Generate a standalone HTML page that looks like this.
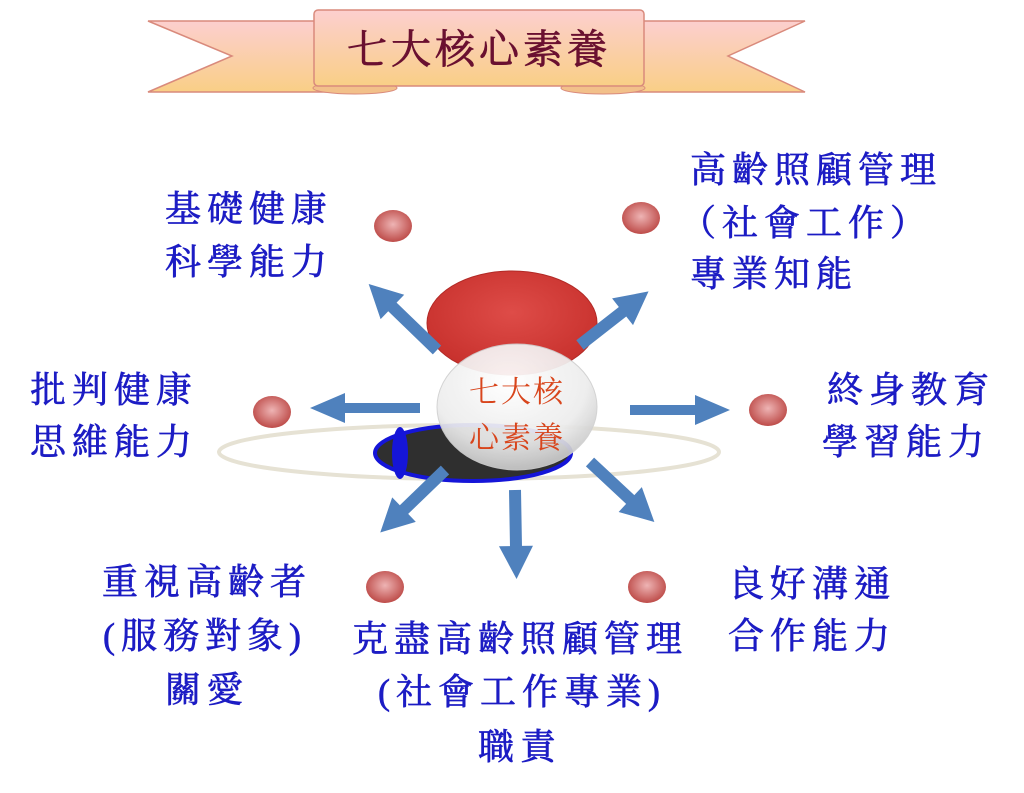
<!DOCTYPE html>
<html><head><meta charset="utf-8"><style>
html,body{margin:0;padding:0;background:#fff;}
svg{display:block;}
.t{font-family:"Liberation Serif","Noto Serif CJK TC","Noto Serif CJK SC",serif;font-size:36px;fill:#1c1cc4;stroke:#1c1cc4;stroke-width:0.7px;letter-spacing:6px;}
</style></head><body>
<svg width="1024" height="793" viewBox="0 0 1024 793" xmlns="http://www.w3.org/2000/svg">
<defs>
<linearGradient id="bn" x1="0" y1="0" x2="0" y2="1">
<stop offset="0" stop-color="#fccfcf"/><stop offset="1" stop-color="#f9cf86"/></linearGradient>
<radialGradient id="dot" cx="0.5" cy="0.45" r="0.6">
<stop offset="0" stop-color="#eeb4b4"/><stop offset="1" stop-color="#b9423f"/></radialGradient>
<radialGradient id="red" cx="0.5" cy="0.4" r="0.6">
<stop offset="0" stop-color="#de4c48"/><stop offset="1" stop-color="#c7302c"/></radialGradient>
<radialGradient id="wh" cx="0.45" cy="0.3" r="0.7">
<stop offset="0" stop-color="#ffffff"/><stop offset="0.7" stop-color="#ececec"/><stop offset="1" stop-color="#c8c8c8"/></radialGradient>
</defs>
<polygon points="148,21 330,21 330,92 148,92 232,56" fill="url(#bn)" stroke="#d98a7c" stroke-width="1.5"/>
<polygon points="805,21 630,21 630,92 805,92 728,56" fill="url(#bn)" stroke="#d98a7c" stroke-width="1.5"/>
<ellipse cx="355" cy="88" rx="42" ry="6" fill="#f2c08a" stroke="#d98a7c"/>
<ellipse cx="603" cy="88" rx="42" ry="6" fill="#f2c08a" stroke="#d98a7c"/>
<rect x="314" y="10" width="330" height="76" rx="4" fill="url(#bn)" stroke="#d98a7c" stroke-width="1.5"/>
<text x="479" y="63" text-anchor="middle" style="font-family:'Liberation Serif','Noto Serif CJK TC',serif;font-size:40px;fill:#6a1030;stroke:#6a1030;stroke-width:0.8px;letter-spacing:4px">七大核心素養</text>
<ellipse cx="469" cy="452" rx="250" ry="27" fill="none" stroke="#e6e2d4" stroke-width="4"/>
<ellipse cx="512" cy="323" rx="85" ry="52" fill="url(#red)" stroke="#b22a26"/>
<ellipse cx="473" cy="453" rx="98" ry="28" fill="#2f2f2f" stroke="#1515d8" stroke-width="4"/>
<ellipse cx="400" cy="453" rx="8" ry="26" fill="#1515d8"/>
<ellipse cx="517" cy="407" rx="80" ry="63" fill="url(#wh)" opacity="0.93" stroke="#d0d0d0"/>
<text x="517" y="402" text-anchor="middle" style="font-family:'Liberation Serif','Noto Serif CJK TC',serif;font-size:30px;fill:#d8451c;letter-spacing:2px">七大核</text>
<text x="517" y="448" text-anchor="middle" style="font-family:'Liberation Serif','Noto Serif CJK TC',serif;font-size:30px;fill:#d8451c;letter-spacing:2px">心素養</text>
<g fill="#4f81bd">
<g transform="translate(420,408) rotate(180)"><path d="M0,-5 L75,-5 L75,-15 L110,0 L75,15 L75,5 L0,5Z"/></g>
<g transform="translate(630,410)"><path d="M0,-5 L65,-5 L65,-15 L100,0 L65,15 L65,5 L0,5Z"/></g>
<g transform="translate(437,350) rotate(-136)"><path d="M0,-6 L62,-6 L62,-17 L95,0 L62,17 L62,6 L0,6Z"/></g>
<g transform="translate(580,345) rotate(-38)"><path d="M0,-6 L54,-6 L54,-17 L87,0 L54,17 L54,6 L0,6Z"/></g>
<g transform="translate(445,470) rotate(136)"><path d="M0,-6 L57,-6 L57,-17 L90,0 L57,17 L57,6 L0,6Z"/></g>
<g transform="translate(515,490) rotate(89)"><path d="M0,-6 L56,-6 L56,-17 L89,0 L56,17 L56,6 L0,6Z"/></g>
<g transform="translate(590,462) rotate(43)"><path d="M0,-6 L55,-6 L55,-17 L88,0 L55,17 L55,6 L0,6Z"/></g>
</g>
<g fill="url(#dot)">
<ellipse cx="393" cy="226" rx="19" ry="16"/>
<ellipse cx="641" cy="218" rx="19" ry="16"/>
<ellipse cx="272" cy="412" rx="19" ry="16"/>
<ellipse cx="768" cy="410" rx="19" ry="16"/>
<ellipse cx="385" cy="587" rx="19" ry="16"/>
<ellipse cx="647" cy="587" rx="19" ry="16"/>
</g>
<text class="t" x="165" y="221">基礎健康</text>
<text class="t" x="165" y="274">科學能力</text>
<text class="t" x="690" y="182">高齡照顧管理</text>
<text class="t" x="680" y="235">（社會工作）</text>
<text class="t" x="690" y="286">專業知能</text>
<text class="t" x="30" y="402">批判健康</text>
<text class="t" x="30" y="454">思維能力</text>
<text class="t" x="827" y="402">終身教育</text>
<text class="t" x="822" y="454">學習能力</text>
<text class="t" x="102" y="594">重視高齡者</text>
<text class="t" x="103" y="648">(服務對象)</text>
<text class="t" x="165" y="702">關愛</text>
<text class="t" x="352" y="651">克盡高齡照顧管理</text>
<text class="t" x="378" y="704">(社會工作專業)</text>
<text class="t" x="478" y="759">職責</text>
<text class="t" x="728" y="596">良好溝通</text>
<text class="t" x="728" y="648">合作能力</text>
</svg>
</body></html>
